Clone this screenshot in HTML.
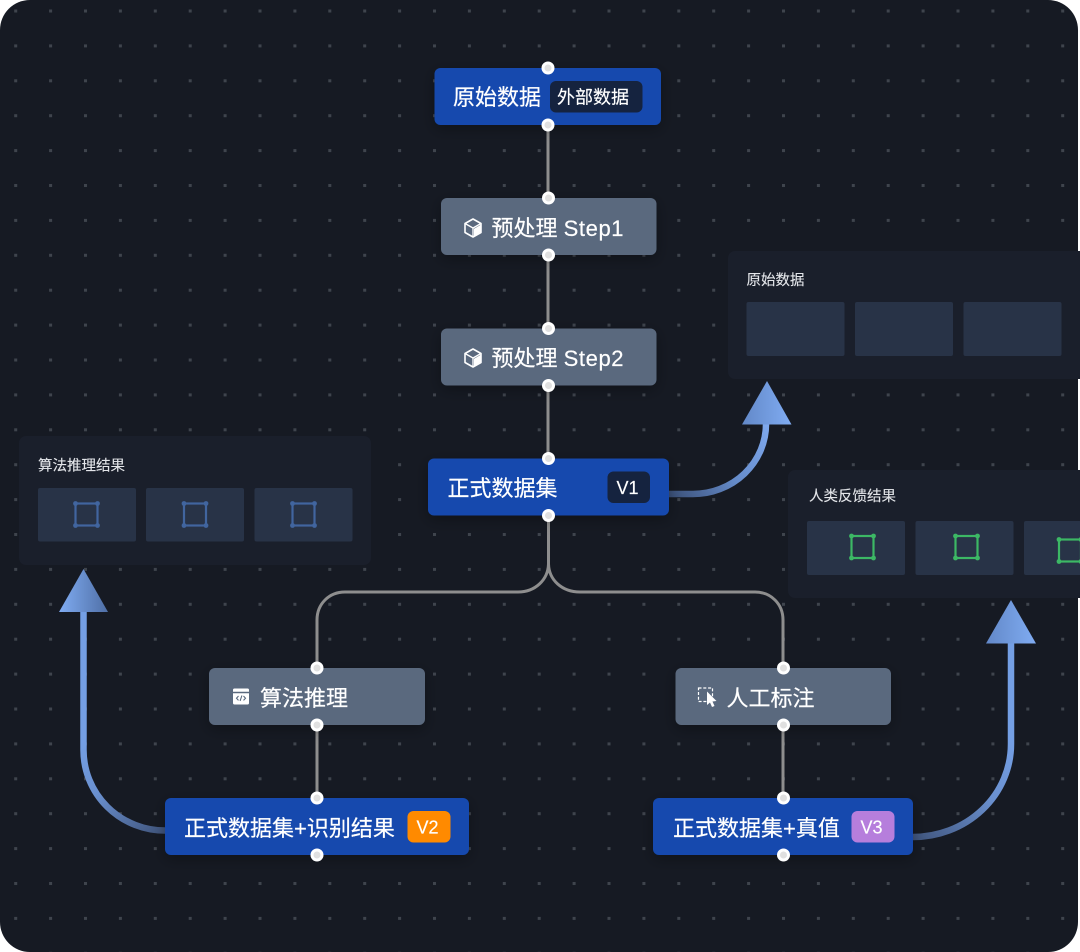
<!DOCTYPE html>
<html><head><meta charset="utf-8"><style>
html,body{margin:0;padding:0;background:#fff;width:1080px;height:952px;overflow:hidden}
svg{display:block}
text{font-family:"Liberation Sans","Noto Sans CJK SC",sans-serif;fill:#fff}
.n{font-size:22px;stroke:#fff;stroke-width:.2}.t{font-size:18px;stroke:#fff;stroke-width:.15}.p{font-size:14.5px;fill:#e4e6ea;stroke:#e4e6ea;stroke-width:.12}
.blue{fill:#1349ae}.gray{fill:#5a697e}
.th{fill:#283347}.pn{fill:#1a1f2b}
.ln{fill:none;stroke:#8e8e8e;stroke-width:3}
.hd{fill:#e0e0e0;stroke:#fff;stroke-width:3}
</style></head><body>
<svg width="1080" height="952" viewBox="0 0 1080 952" xmlns="http://www.w3.org/2000/svg">
<defs>
<pattern id="dots" width="34.9" height="34.9" patternUnits="userSpaceOnUse" patternTransform="translate(14.2 9.5)"><rect width="3" height="3" fill="#3f444d"/></pattern>
<filter id="sh" x="-20%" y="-50%" width="140%" height="200%"><feDropShadow dx="0" dy="4" stdDeviation="7" flood-color="#000" flood-opacity=".3"/></filter>
<linearGradient id="a1" gradientUnits="userSpaceOnUse" x1="669" y1="494" x2="767" y2="424"><stop offset="0" stop-color="#3b5078"/><stop offset=".5" stop-color="#648ac8"/><stop offset="1" stop-color="#7fa9ee"/></linearGradient>
<linearGradient id="a2" gradientUnits="userSpaceOnUse" x1="165" y1="830" x2="84" y2="740"><stop offset="0" stop-color="#40557d"/><stop offset=".6" stop-color="#6a90cf"/><stop offset="1" stop-color="#749fe4"/></linearGradient>
<linearGradient id="a3" gradientUnits="userSpaceOnUse" x1="913" y1="838" x2="1011" y2="740"><stop offset="0" stop-color="#40557d"/><stop offset=".6" stop-color="#6a90cf"/><stop offset="1" stop-color="#749fe4"/></linearGradient>
<linearGradient id="h1" x1="0" x2="1" y1="0" y2="0"><stop offset="0" stop-color="#6288c8"/><stop offset="1" stop-color="#80acf2"/></linearGradient>
<linearGradient id="h2" x1="0" x2="1" y1="0" y2="0"><stop offset="0" stop-color="#80acf2"/><stop offset="1" stop-color="#4f6fa6"/></linearGradient>
<g id="bbb"><rect x="-11" y="-11" width="22" height="22" stroke="#41659f" stroke-width="2.2" fill="none"/><circle cx="-11" cy="-11" r="2.4" fill="#41659f"/><circle cx="11" cy="-11" r="2.4" fill="#41659f"/><circle cx="-11" cy="11" r="2.4" fill="#41659f"/><circle cx="11" cy="11" r="2.4" fill="#41659f"/></g>
<g id="bbg"><rect x="-11" y="-11" width="22" height="22" stroke="#3cb865" stroke-width="2.2" fill="none"/><circle cx="-11" cy="-11" r="2.4" fill="#3cb865"/><circle cx="11" cy="-11" r="2.4" fill="#3cb865"/><circle cx="-11" cy="11" r="2.4" fill="#3cb865"/><circle cx="11" cy="11" r="2.4" fill="#3cb865"/></g>
<g id="cube"><path d="M0 -9 L8 -4.500 V4.500 L0 9 L-8 4.500 V-4.500 Z" fill="none" stroke="#fff" stroke-width="1.600" stroke-linejoin="round"/><path d="M1 .8 L7.500 -3 V4 L1 8 Z" fill="#fff"/><path d="M0 0 V8 M0 0 L-8 -4.500 M0 0 L8 -4.500" stroke="#fff" stroke-width="1.300" fill="none"/></g>
</defs>

<rect x="0" y="0" width="1078" height="952" rx="30" fill="#161a23"/>
<rect x="0" y="0" width="1078" height="952" rx="30" fill="url(#dots)"/>

<!-- panels -->
<rect class="pn" x="728" y="251" width="362" height="128" rx="7"/>
<rect class="pn" x="19" y="436" width="352" height="129" rx="7"/>
<rect class="pn" x="788" y="470" width="302" height="128" rx="7"/>

<text class="p" x="746.500" y="285">原始数据</text>
<rect class="th" x="746.500" y="302" width="98" height="54" rx="2"/>
<rect class="th" x="855" y="302" width="98" height="54" rx="2"/>
<rect class="th" x="963.500" y="302" width="98" height="54" rx="2"/>

<text class="p" x="38" y="470.500">算法推理结果</text>
<rect class="th" x="38" y="488" width="98" height="53.500" rx="2"/>
<rect class="th" x="146" y="488" width="98" height="53.500" rx="2"/>
<rect class="th" x="254.500" y="488" width="98" height="53.500" rx="2"/>
<use href="#bbb" x="86.500" y="514.500"/>
<use href="#bbb" x="195" y="514.500"/>
<use href="#bbb" x="303.500" y="514.500"/>

<text class="p" x="809" y="501">人类反馈结果</text>
<rect class="th" x="807" y="521" width="98" height="54" rx="2"/>
<rect class="th" x="915.500" y="521" width="98" height="54" rx="2"/>
<rect class="th" x="1024" y="521" width="60" height="54" rx="2"/>
<use href="#bbg" x="862.500" y="547"/>
<use href="#bbg" x="966.500" y="547"/>
<use href="#bbg" x="1070" y="550.500"/>

<!-- blue arrows -->
<path d="M669 494 H693 A73 70 0 0 0 766 424 V420" fill="none" stroke="url(#a1)" stroke-width="6.500"/>
<polygon points="767,381 791.500,424.500 742,424.500" fill="url(#h1)"/>
<path d="M165 830.500 A81.500 80.500 0 0 1 83.500 750 V610" fill="none" stroke="url(#a2)" stroke-width="6.500"/>
<polygon points="83.500,569 108,612 59,612" fill="url(#h2)"/>
<path d="M913 837 A98 93 0 0 0 1011 744 V642" fill="none" stroke="url(#a3)" stroke-width="6.500"/>
<polygon points="1011,600 1036,643.500 986,643.500" fill="url(#h1)"/>

<!-- grey connectors -->
<path class="ln" d="M548 125 V198 M548 255 V328 M548 385 V458 M548.500 515 V566"/>
<path class="ln" d="M548.500 564 C548 580 535 592 518 592 H345 C329 592 317 604 317 620 V668"/>
<path class="ln" d="M548.500 564 C549 580 562 592 580 592 H755 C771 592 783 604 783 620 V668"/>
<path class="ln" d="M317 725 V798 M783 725 V798"/>

<!-- nodes -->
<g filter="url(#sh)">
<rect class="blue" x="434.500" y="68" width="226.500" height="57" rx="6"/>
<rect class="gray" x="441" y="198" width="215.500" height="57" rx="6"/>
<rect class="gray" x="441" y="328.500" width="215.500" height="57" rx="6"/>
<rect class="blue" x="428" y="458.500" width="241" height="57" rx="6"/>
<rect class="gray" x="209" y="668" width="216" height="57" rx="6"/>
<rect class="gray" x="675.500" y="668" width="215.500" height="57" rx="6"/>
<rect class="blue" x="165" y="798" width="304" height="57" rx="6"/>
<rect class="blue" x="653" y="798" width="260" height="57" rx="6"/>
</g>

<text class="n" x="453" y="105">原始数据</text>
<rect x="550" y="81" width="92.500" height="31.500" rx="6" fill="#15233f"/>
<text class="t" x="557" y="103.500">外部数据</text>

<use href="#cube" x="473" y="228"/>
<text class="n" x="491.500" y="236">预处理 <tspan letter-spacing=".6">Step1</tspan></text>
<use href="#cube" x="473" y="358"/>
<text class="n" x="491.500" y="366">预处理 <tspan letter-spacing=".6">Step2</tspan></text>

<text class="n" x="447.500" y="496">正式数据集</text>
<rect x="607.500" y="471.500" width="42.500" height="31.500" rx="6" fill="#15233f"/>
<text class="t" x="616.500" y="494">V1</text>

<rect x="233" y="688.500" width="16" height="16" rx="1.500" fill="#fff"/><path d="M233 692.500 h16" stroke="#5a697e" stroke-width="1.500"/>
<path d="M238.500 696 l-2 2.200 2 2.200 M243.500 696 l2 2.200 -2 2.200 M241.900 695.500 l-1.800 5.400" stroke="#5a697e" stroke-width="1.100" fill="none"/>
<text class="n" x="260" y="706">算法推理</text>

<rect x="698.500" y="688" width="14" height="13.500" fill="none" stroke="#fff" stroke-width="1.200" stroke-dasharray="3 1.800"/>
<path d="M707 691.500 L716.500 701 L712.500 701.500 L714.500 706 L712 707 L710 702.500 L707 705 Z" fill="#fff"/>
<text class="n" x="726.500" y="706">人工标注</text>

<text class="n" x="184" y="836">正式数据集+识别结果</text>
<rect x="407.500" y="811" width="43" height="31.500" rx="6" fill="#ff8a00"/>
<text class="t" x="416.500" y="833.500">V2</text>

<text class="n" x="673" y="836">正式数据集+真值</text>
<rect x="851.500" y="811" width="43" height="31.500" rx="6" fill="#b67edc"/>
<text class="t" x="860.500" y="833.500">V3</text>

<!-- handles -->
<g>
<circle class="hd" cx="548" cy="68" r="5"/>
<circle class="hd" cx="548" cy="125" r="5"/>
<circle class="hd" cx="548.500" cy="198" r="5"/>
<circle class="hd" cx="548.500" cy="255" r="5"/>
<circle class="hd" cx="548.500" cy="328.500" r="5"/>
<circle class="hd" cx="548.500" cy="385.500" r="5"/>
<circle class="hd" cx="548.500" cy="458.500" r="5"/>
<circle class="hd" cx="548.500" cy="515.500" r="5"/>
<circle class="hd" cx="317" cy="668" r="5"/>
<circle class="hd" cx="317" cy="725" r="5"/>
<circle class="hd" cx="317" cy="798" r="5"/>
<circle class="hd" cx="317" cy="855" r="5"/>
<circle class="hd" cx="783.500" cy="668" r="5"/>
<circle class="hd" cx="783.500" cy="725" r="5"/>
<circle class="hd" cx="783.500" cy="798" r="5"/>
<circle class="hd" cx="783.500" cy="855" r="5"/>
</g>
</svg>
</body></html>
